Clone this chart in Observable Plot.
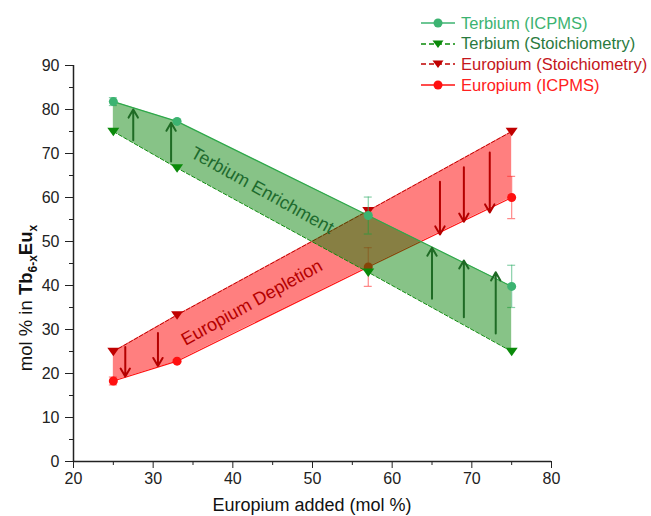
<!DOCTYPE html>
<html><head><meta charset="utf-8">
<script src="https://cdn.jsdelivr.net/npm/d3@7"></script>
<script src="https://cdn.jsdelivr.net/npm/@observablehq/plot@0.6"></script>
<style>
body{margin:0;background:#fff;font-family:"Liberation Sans",Arial,sans-serif;}
#wrap{position:relative;width:651px;height:516px;overflow:hidden;}
#legend{position:absolute;left:0;top:0;width:651px;height:100px;pointer-events:none;}
.row{position:absolute;left:421px;height:20px;display:flex;align-items:center;font-size:16.5px;white-space:nowrap;}
.row svg{margin-right:6px;}
</style></head><body>
<div id="wrap"><div id="chart"></div><div id="legend"></div></div>
<script>
// ---- data ----
const europiumAdded = [25, 33, 57, 75];
const tbIcpms = [81.8, 77.3, 55.9, 39.8];
const tbIcpmsErr = [0.9, 0.3, 4.2, 4.8];
const tbStoich = [75, 66.7, 43, 25];
const euStoich = [25, 33.3, 57, 75];
const euIcpms = [18.3, 22.8, 44.2, 60.0];
const euIcpmsErr = [0.9, 0.3, 4.4, 4.8];

const tbArrowX = [27.5, 32.25, 65, 69, 73];
const tbArrowFrom = [73.0, 68.2, 37.0, 32.8, 29.1];
const tbArrowTo = [80.0, 77.0, 48.6, 45.7, 43.0];
const euArrowX = [26.5, 30.6, 66, 69, 72.25];
const euArrowFrom = [26.0, 29.2, 63.6, 66.9, 70.2];
const euArrowTo = [19.3, 21.7, 51.6, 54.5, 56.6];

const bandLabels = ["Terbium Enrichment", "Europium Depletion"];
const bandLabelX = [43.7, 42.4];
const bandLabelY = [61.6, 36.1];
const bandLabelAngle = [29, -29];

const xTicks = [20, 30, 40, 50, 60, 70, 80];
const xMinorTicks = [25, 35, 45, 55, 65, 75];
const yTicks = [0, 10, 20, 30, 40, 50, 60, 70, 80, 90];
const yMinorTicks = [5, 15, 25, 35, 45, 55, 65, 75, 85];

const seriesNames = ["Terbium (ICPMS)", "Terbium (Stoichiometry)", "Europium (Stoichiometry)", "Europium (ICPMS)"];
const seriesColors = ["#3cb371", "#0a8a0a", "#c00000", "#ff1010"];
const seriesTextColors = ["#3cb371", "#2a7a3e", "#c4161c", "#ff2020"];

// ---- tables ----
const tb = europiumAdded.map((x, i) => ({x, icp: tbIcpms[i], err: tbIcpmsErr[i], st: tbStoich[i]}));
const eu = europiumAdded.map((x, i) => ({x, icp: euIcpms[i], err: euIcpmsErr[i], st: euStoich[i]}));
const tbArrows = tbArrowX.map((x, i) => ({x, y1: tbArrowFrom[i], y2: tbArrowTo[i]}));
const euArrows = euArrowX.map((x, i) => ({x, y1: euArrowFrom[i], y2: euArrowTo[i]}));
const labels = bandLabels.map((t, i) => ({t, x: bandLabelX[i], y: bandLabelY[i], a: bandLabelAngle[i]}));

const triDown = {
  draw(ctx, size) {
    const w = Math.sqrt(size / Math.PI) * 1.2;
    ctx.moveTo(-w, -0.62 * w);
    ctx.lineTo(w, -0.62 * w);
    ctx.lineTo(0, 0.8 * w);
    ctx.closePath();
  }
};

const errMarks = (data, color) => [
  Plot.ruleX(data, {x: "x", y1: d => d.icp - d.err, y2: d => d.icp + d.err, stroke: color, strokeWidth: 1.2}),
  Plot.ruleY(data, {y: d => d.icp + d.err, x1: d => d.x - 0.5, x2: d => d.x + 0.5, stroke: color, strokeWidth: 1.2}),
  Plot.ruleY(data, {y: d => d.icp - d.err, x1: d => d.x - 0.5, x2: d => d.x + 0.5, stroke: color, strokeWidth: 1.2})
];

const chart = Plot.plot({
  width: 651,
  height: 516,
  marginLeft: 73,
  marginRight: 100,
  marginTop: 65,
  marginBottom: 55,
  style: {fontFamily: "'Liberation Sans', Arial, sans-serif", fontSize: "15px", color: "#222", background: "#fff"},
  x: {domain: [20, 80]},
  y: {domain: [0, 90]},
  marks: [
    // Europium band
    Plot.areaY(eu, {x: "x", y1: "st", y2: "icp", fill: "#ff0000", fillOpacity: 0.5}),
    ...errMarks(eu, "rgba(255,40,40,0.55)"),
    Plot.line(eu, {x: "x", y: "st", stroke: seriesColors[2], strokeWidth: 1, strokeDasharray: "4,2"}),
    Plot.line(eu, {x: "x", y: "icp", stroke: seriesColors[3], strokeWidth: 1.2}),
    Plot.dot(eu, {x: "x", y: "st", symbol: triDown, r: 5, fill: seriesColors[2]}),
    Plot.dot(eu, {x: "x", y: "icp", symbol: "circle", r: 4.5, fill: seriesColors[3]}),
    ...errMarks(tb, "rgba(60,179,113,0.6)"),
    // Terbium band
    Plot.areaY(tb, {x: "x", y1: "st", y2: "icp", fill: "#008000", fillOpacity: 0.47}),
    Plot.line(tb, {x: "x", y: "st", stroke: seriesColors[1], strokeWidth: 1, strokeDasharray: "4,2"}),
    Plot.line(tb, {x: "x", y: "icp", stroke: "#2ea84a", strokeWidth: 1.2}),
    Plot.dot(tb, {x: "x", y: "st", symbol: triDown, r: 5, fill: seriesColors[1]}),
    Plot.dot(tb, {x: "x", y: "icp", symbol: "circle", r: 4.5, fill: seriesColors[0]}),
    // arrows
    Plot.arrow(tbArrows, {x1: "x", x2: "x", y1: "y1", y2: "y2", stroke: "#1f6b25", strokeWidth: 2, headLength: 7}),
    Plot.arrow(euArrows, {x1: "x", x2: "x", y1: "y1", y2: "y2", stroke: "#b50000", strokeWidth: 2, headLength: 7}),
    // band labels
    Plot.text(labels.slice(0, 1), {x: "x", y: "y", text: "t", rotate: "a", fill: "#1e6b2e", fontSize: 18}),
    Plot.text(labels.slice(1), {x: "x", y: "y", text: "t", rotate: "a", fill: "#b50000", fontSize: 18}),
    // axes
    Plot.axisX(xTicks, {tickSize: 7, tickPadding: 4, fontSize: 16, label: null, stroke: "#222"}),
    Plot.axisX(xMinorTicks, {tickSize: 4, tickFormat: () => "", label: null, stroke: "#222"}),
    Plot.axisY(yTicks, {tickSize: 8, tickPadding: 6, fontSize: 16, label: null, stroke: "#222"}),
    Plot.axisY(yMinorTicks, {tickSize: 4, tickFormat: () => "", label: null, stroke: "#222"}),
    Plot.ruleY([0], {stroke: "#222", strokeWidth: 1.5}),
    Plot.ruleX([20], {y1: 0, y2: 90, stroke: "#222", strokeWidth: 1.5})
  ]
});

// axis titles (real text, with rich formatting for the y title)
const svg = d3.select(chart);
svg.append("text")
  .attr("x", 312).attr("y", 511)
  .attr("text-anchor", "middle")
  .attr("font-size", 18).attr("fill", "#111")
  .text("Europium added (mol %)");
const yt = svg.append("text")
  .attr("transform", "translate(32,298) rotate(-90)")
  .attr("text-anchor", "middle")
  .attr("font-size", 18.5).attr("fill", "#111");
yt.append("tspan").text("mol % in ");
yt.append("tspan").attr("font-weight", "bold").text("Tb");
yt.append("tspan").attr("font-weight", "bold").attr("font-size", 12).attr("dy", 5).text("6-x");
yt.append("tspan").attr("font-weight", "bold").attr("dy", -5).text("Eu");
yt.append("tspan").attr("font-weight", "bold").attr("font-size", 12).attr("dy", 5).text("x");

document.getElementById("chart").appendChild(chart);

// legend
const legend = document.getElementById("legend");
const rowCenters = [23, 43.5, 64, 85];
const dashed = [false, true, true, false];
const circle = [true, false, false, true];
seriesNames.forEach((name, i) => {
  const row = document.createElement("div");
  row.className = "row";
  row.style.top = (rowCenters[i] - 10) + "px";
  const c = seriesColors[i];
  const marker = circle[i]
    ? `<circle cx="17" cy="8" r="4.5" fill="${c}"/>`
    : `<path d="M11.5,4.6 L22.5,4.6 L17,12 Z" fill="${c}"/>`;
  row.innerHTML = `<svg width="34" height="16"><line x1="0" x2="34" y1="8" y2="8" stroke="${c}" stroke-width="1.3" ${dashed[i] ? 'stroke-dasharray="5,3"' : ""}/>${marker}</svg><span style="color:${seriesTextColors[i]}">${name}</span>`;
  legend.appendChild(row);
});
</script>
</body></html>
